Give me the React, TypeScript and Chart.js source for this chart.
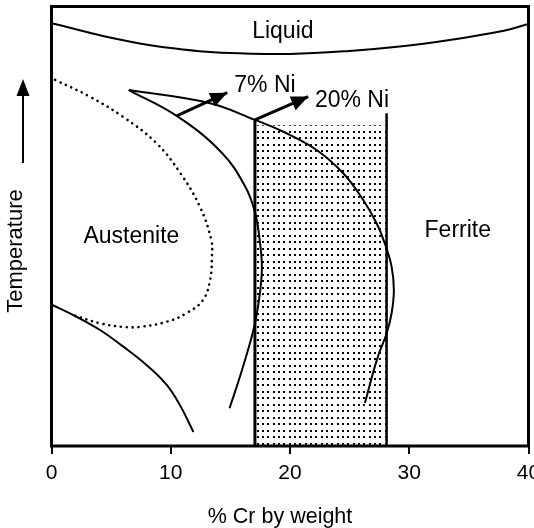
import React, { useEffect, useRef } from "react";
import { Chart, registerables } from "chart.js";

Chart.register(...registerables);

// ---- data (x = % Cr by weight, y = relative temperature 0..100) ----
const crTicks = [0, 10, 20, 30, 40];

const liquidX = [0, 1.8, 4.6, 7.4, 10.2, 13.0, 15.8, 20.0, 25.0, 29.2, 33.4, 37.6, 40];
const liquidY = [96.2, 95.0, 93.1, 91.6, 90.5, 89.7, 89.35, 89.2, 89.9, 90.9, 92.4, 94.3, 96.0];

const dottedX = [0.3, 3.2, 6.0, 8.8, 10.8, 12.45, 13.4, 13.45, 13.3, 12.7, 11.3, 9.7, 7.4, 6.0, 4.1, 1.8];
const dottedY = [83.3, 79.5, 74.9, 68.9, 62.1, 54.4, 46.9, 43.0, 37.8, 33.2, 30.2, 28.3, 27.1, 27.1, 27.9, 29.8];

const lowerX = [0, 1.83, 4.07, 6.02, 7.98, 9.66, 10.77, 11.9];
const lowerY = [32.2, 29.8, 26.4, 22.6, 18.4, 13.9, 9.3, 3.2];

const ni7X = [6.48, 10.5, 14.22, 16.21, 17.07, 17.49, 17.64, 17.35, 16.92, 15.93, 14.93];
const ni7Y = [81.0, 75.1, 66.9, 59.2, 53.1, 46.1, 40.0, 32.3, 26.2, 16.9, 8.6];

const ni20X = [6.48, 13.29, 17.06, 19.43, 22.23, 24.46, 26.14, 27.26, 27.95, 28.52, 28.71, 28.52, 28.1, 27.33, 26.28];
const ni20Y = [81.0, 78.0, 74.2, 71.5, 67.35, 62.05, 55.97, 50.67, 46.12, 40.8, 35.5, 30.2, 25.6, 20.0, 9.8];

const leftBoundX = [17.06, 17.06];
const leftBoundY = [74.2, 0];
const rightBoundX = [28.1, 28.1];
const rightBoundY = [75.7, 0];

const shadeX = [17.06, 28.1];
const shadeY = [73.0, 73.0];

const arrow7X = [10.5, 14.74];
const arrow7Y = [75.1, 80.4];
const arrow20X = [17.06, 21.53];
const arrow20Y = [74.2, 79.5];

const labelText = ["Liquid", "Austenite", "Ferrite", "7% Ni", "20% Ni"];
const labelX = [19.4, 6.7, 34.07, 17.9, 25.2];
const labelY = [94.3, 47.6, 48.9, 81.9, 78.6];

const xTitle = "% Cr by weight";
const yTitle = "Temperature";

const FONT = '"Liberation Sans", Arial, sans-serif';

const zip = (xs: number[], ys: number[]) => xs.map((x, i) => ({ x, y: ys[i] }));

function makePattern(): CanvasPattern | string {
  const c = document.createElement("canvas");
  c.width = 16;
  c.height = 13;
  const g = c.getContext("2d");
  if (!g) return "#888";
  g.fillStyle = "#000";
  for (const px of [1, 6, 11]) for (const py of [1, 7]) g.fillRect(px, py, 2, 2);
  return g.createPattern(c, "repeat") ?? "#888";
}

const lineDs = (data: { x: number; y: number }[], extra: any = {}) => ({
  data,
  borderColor: "#000",
  borderWidth: 2,
  pointRadius: 0,
  tension: 0.4,
  fill: false,
  ...extra,
});

const decorPlugin = {
  id: "decor",
  afterDatasetsDraw(chart: any) {
    const { ctx, chartArea, scales } = chart;
    const xs = scales.x;
    const ys = scales.y;
    ctx.save();

    // arrowheads
    chart.data.datasets.forEach((ds: any, i: number) => {
      if (!ds.arrowHead) return;
      const pts = chart.getDatasetMeta(i).data;
      const a = pts[pts.length - 2];
      const b = pts[pts.length - 1];
      const ang = Math.atan2(b.y - a.y, b.x - a.x);
      const len = 17;
      const half = 7.5;
      const bx = b.x - Math.cos(ang) * len;
      const by = b.y - Math.sin(ang) * len;
      ctx.beginPath();
      ctx.moveTo(b.x, b.y);
      ctx.lineTo(bx - Math.sin(ang) * half, by + Math.cos(ang) * half);
      ctx.lineTo(bx + Math.sin(ang) * half, by - Math.cos(ang) * half);
      ctx.closePath();
      ctx.fillStyle = "#000";
      ctx.fill();
    });

    // frame
    ctx.strokeStyle = "#000";
    ctx.lineWidth = 3;
    ctx.strokeRect(chartArea.left, chartArea.top, chartArea.right - chartArea.left, chartArea.bottom - chartArea.top);

    // region labels
    ctx.fillStyle = "#000";
    ctx.font = `23px ${FONT}`;
    ctx.textAlign = "center";
    ctx.textBaseline = "middle";
    labelText.forEach((t, i) => {
      ctx.fillText(t, xs.getPixelForValue(labelX[i]), ys.getPixelForValue(labelY[i]));
    });

    // x title
    ctx.font = `21.5px ${FONT}`;
    ctx.textBaseline = "alphabetic";
    ctx.fillText(xTitle, 280, 523);

    // y title (rotated)
    ctx.save();
    ctx.translate(16, 251);
    ctx.rotate(-Math.PI / 2);
    ctx.textBaseline = "middle";
    ctx.font = `22px ${FONT}`;
    ctx.fillText(yTitle, 0, 0);
    ctx.restore();

    // temperature arrow
    ctx.lineWidth = 2;
    ctx.beginPath();
    ctx.moveTo(23, 163);
    ctx.lineTo(23, 94);
    ctx.stroke();
    ctx.beginPath();
    ctx.moveTo(23, 79);
    ctx.lineTo(16.5, 96);
    ctx.lineTo(29.5, 96);
    ctx.closePath();
    ctx.fill();

    ctx.restore();
  },
};

export default function App() {
  const ref = useRef<HTMLCanvasElement | null>(null);

  useEffect(() => {
    if (!ref.current) return;
    const pattern = makePattern();
    const chart = new Chart(ref.current, {
      type: "line",
      data: {
        datasets: [
          lineDs(zip(liquidX, liquidY)),
          lineDs(zip(dottedX, dottedY), { borderWidth: 2.6, borderDash: [0.1, 5.8], borderCapStyle: "round" }),
          lineDs(zip(lowerX, lowerY)),
          lineDs(zip(ni7X, ni7Y)),
          lineDs(zip(ni20X, ni20Y)),
          lineDs(zip(leftBoundX, leftBoundY), { borderWidth: 3, tension: 0 }),
          lineDs(zip(rightBoundX, rightBoundY), { borderWidth: 2.5, tension: 0 }),
          lineDs(zip(arrow7X, arrow7Y), { borderWidth: 3, tension: 0, arrowHead: true }),
          lineDs(zip(arrow20X, arrow20Y), { borderWidth: 3, tension: 0, arrowHead: true }),
          {
            data: zip(shadeX, shadeY),
            borderWidth: 0,
            pointRadius: 0,
            tension: 0,
            fill: "origin",
            backgroundColor: pattern,
          },
        ] as any,
      },
      options: {
        responsive: false,
        animation: false,
        events: [],
        layout: { padding: { left: 51.5, top: 6.5, right: 5.5, bottom: 0 } },
        plugins: { legend: { display: false }, tooltip: { enabled: false } },
        scales: {
          x: {
            type: "linear",
            min: 0,
            max: 40,
            afterBuildTicks: (scale: any) => {
              scale.ticks = crTicks.map((v) => ({ value: v }));
            },
            afterFit: (scale: any) => {
              scale.height = 82;
              scale.paddingLeft = 0;
              scale.paddingRight = 0;
            },
            ticks: {
              color: "#000",
              font: { size: 21, family: FONT },
              padding: 7,
              maxRotation: 0,
              autoSkip: false,
            },
            grid: {
              display: true,
              drawOnChartArea: false,
              drawTicks: true,
              tickLength: 8,
              color: "#000",
              lineWidth: 2,
            },
            border: { display: false },
          },
          y: { type: "linear", display: false, min: 0, max: 100 },
        },
      },
      plugins: [decorPlugin],
    } as any);
    return () => chart.destroy();
  }, []);

  return (
    <div style={{ position: "fixed", left: 0, top: 0, width: 534, height: 528, background: "#fff" }}>
      <canvas ref={ref} width={534} height={528} style={{ width: 534, height: 528, display: "block" }} />
    </div>
  );
}
